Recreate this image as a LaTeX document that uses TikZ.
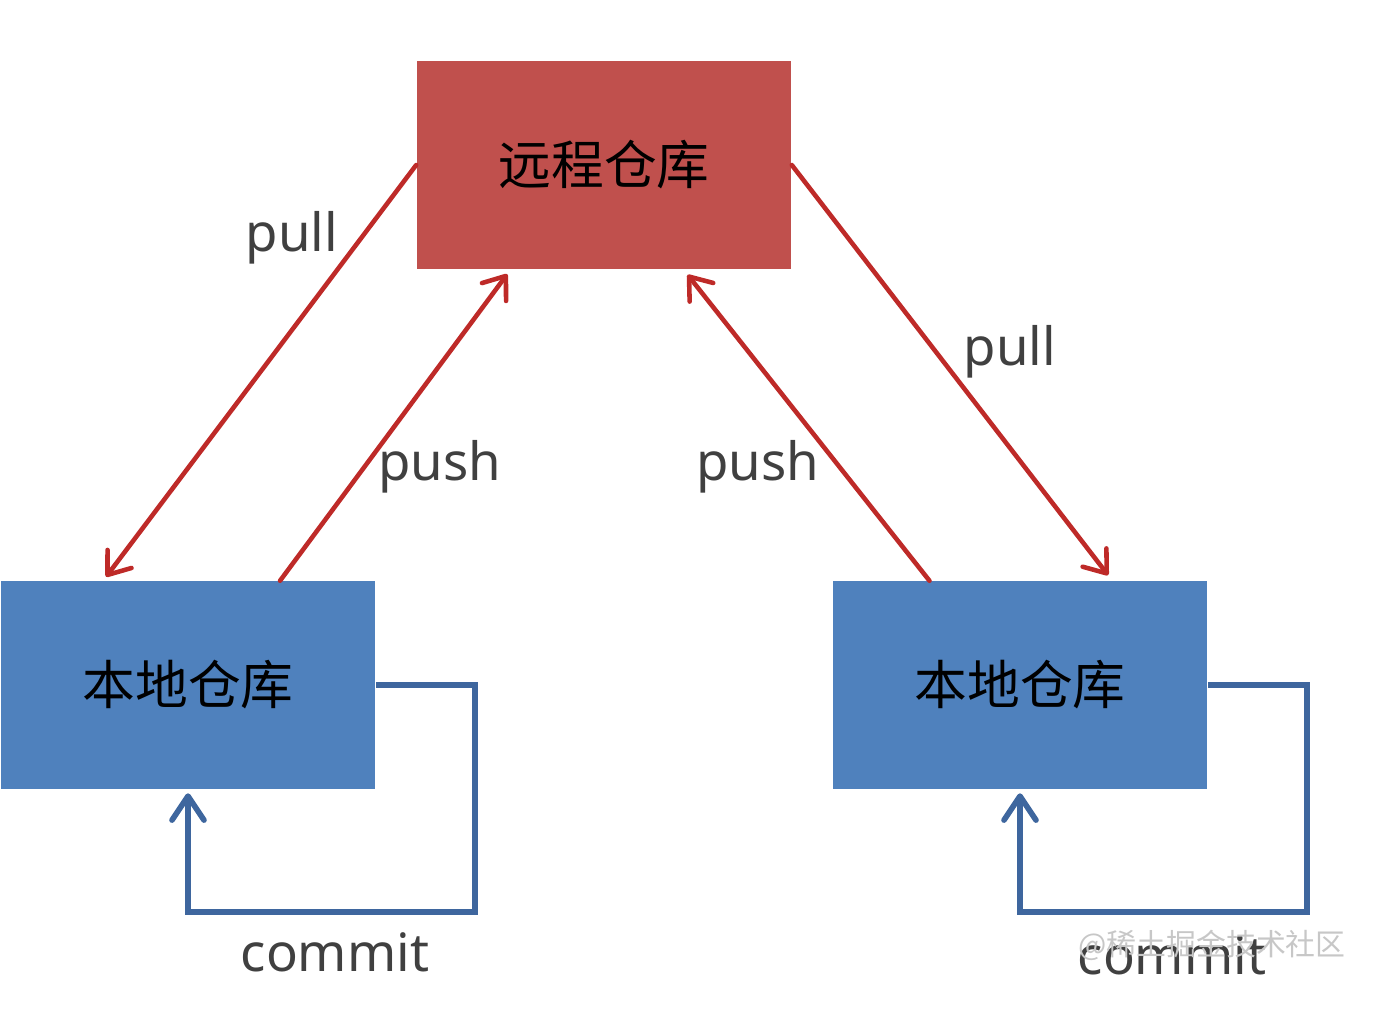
\documentclass[tikz,border=0pt]{standalone}
\usepackage{fontspec}
\setmainfont{Noto Sans}
\newfontfamily\cjk{Noto Sans CJK SC}
\usetikzlibrary{arrows.meta, positioning, calc}
\definecolor{remotered}{RGB}{192,80,77}
\definecolor{localblue}{RGB}{79,129,189}
\definecolor{syncred}{RGB}{190,42,40}
\definecolor{commitblue}{RGB}{62,102,158}
\definecolor{labelgray}{RGB}{64,64,64}

\begin{document}
\begin{tikzpicture}[x=0.01cm, y=-0.01cm,
  repo/.style={rectangle, minimum width=3.74cm, minimum height=2.07cm, inner sep=0pt,
               font=\cjk\fontsize{15}{18}\selectfont, text=black},
  sync/.style={-{Straight Barb[length=0.2cm, width=0.3cm, line cap=round, line join=round]},
               line width=1.3pt, syncred, line cap=round},
  commit/.style={-{Straight Barb[length=0.24cm, width=0.32cm, line cap=round, line join=round]},
               line width=1.6pt, commitblue, line join=miter},
  op/.style={font=\fontsize{15}{18}\selectfont, text=labelgray, inner sep=0pt}
]
\useasboundingbox (0,0) rectangle (1400,1026);

% repositories
\node[repo, fill=remotered] (remote) at (604,165) {远程仓库};
\node[repo, fill=localblue] (lrepo)  at (188,685) {本地仓库};
\node[repo, fill=localblue] (rrepo)  at (1020,685) {本地仓库};

% pull / push between remote and local
\draw[sync, shorten >=0.05cm] (remote.west) -- ($(lrepo.north west)!0.274!(lrepo.north east)$);
\draw[sync, shorten >=0.06cm] ($(lrepo.north west)!0.745!(lrepo.north east)$) -- ($(remote.south west)!0.252!(remote.south east)$);
\draw[sync, shorten >=0.07cm] ($(rrepo.north west)!0.259!(rrepo.north east)$) -- ($(remote.south west)!0.711!(remote.south east)$);
\draw[sync, shorten >=0.07cm] (remote.east) -- ($(rrepo.north west)!0.746!(rrepo.north east)$);

% commit loops
\draw[commit, shorten >=0.04cm] (lrepo.east) -- ++(99,0) -- ++(0,227) -| (lrepo.south);
\draw[commit, shorten >=0.04cm] (rrepo.east) -- ++(99,0) -- ++(0,227) -| (rrepo.south);

% labels
\node[op] (pullL) at (292,238) {pull};
\node[op] (pushL) at (440,467) {push};
\node[op] (pushR) at (758,467) {push};
\node[op] (pullR) at (1010,352) {pull};
\node[op] (commitL) at (335,952) {commit};
\node[op] (commitR) at (1172,955) {commit};

% watermark
\node[font=\cjk\fontsize{8.5}{10}\selectfont, text=black!22, inner sep=0pt] (mark) at (1212,945) {@稀土掘金技术社区};
\end{tikzpicture}
\end{document}
